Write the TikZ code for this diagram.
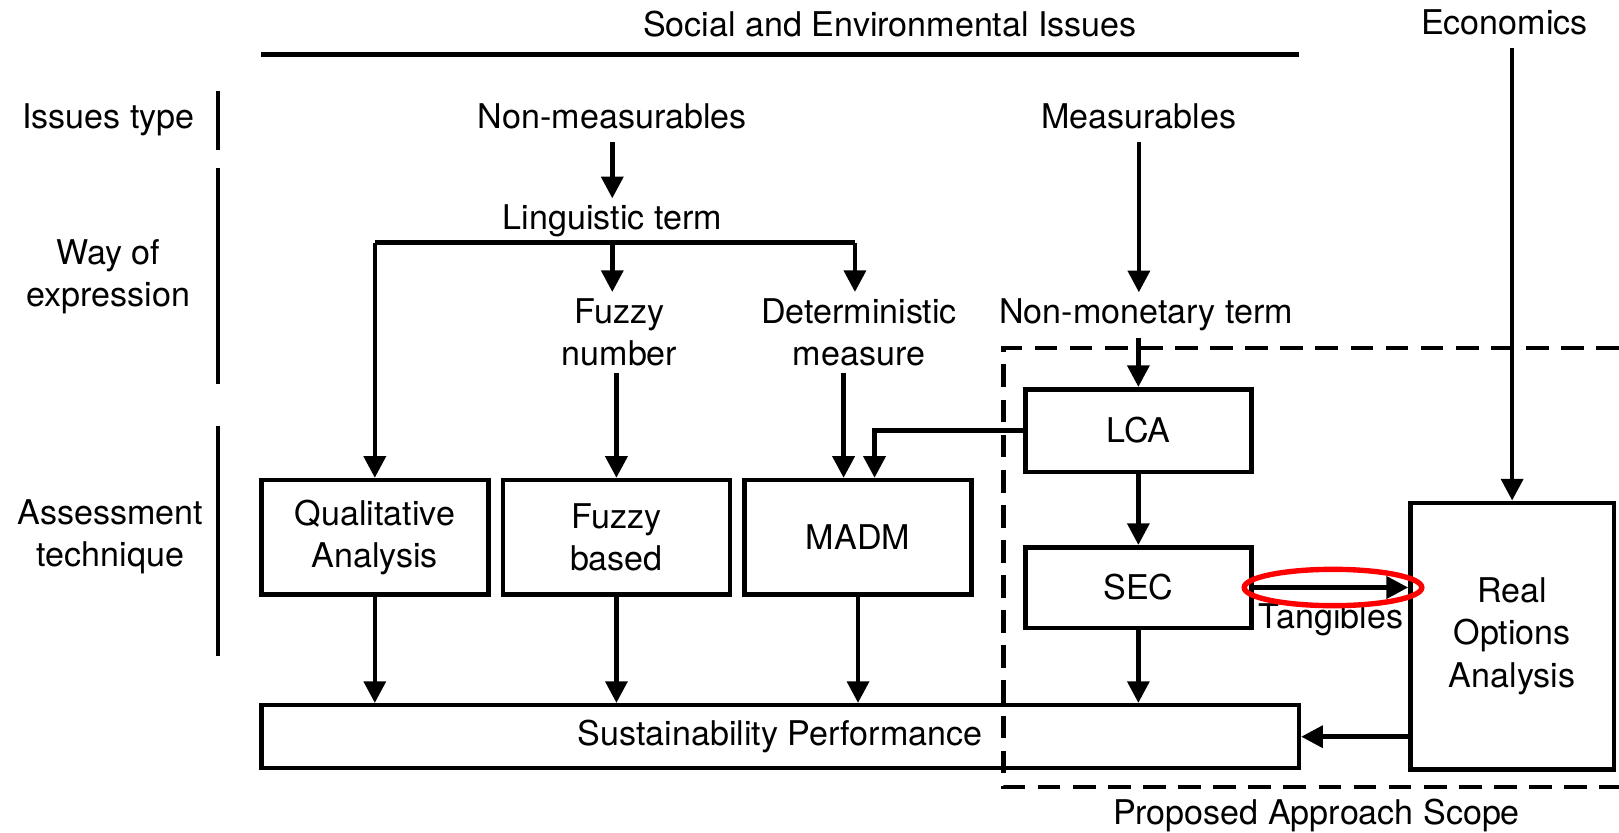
\documentclass[tikz,border=0pt]{standalone}
\usepackage{fontspec}
\setmainfont{TeX Gyre Heros}
\usetikzlibrary{arrows.meta,calc}
\begin{document}
\begin{tikzpicture}[x=0.5pt,y=-0.5pt,
  every node/.style={font=\fontsize{16.5}{20.5}\selectfont, inner sep=3pt},
  lbl/.style={text height=12pt, text depth=3.5pt},
  mlbl/.style={align=center},
  boxn/.style={draw, line width=2.2pt, align=center, inner sep=0pt},
  ln/.style={line width=2.2pt},
  arr/.style={line width=2.2pt, -{Triangle[length=10.5pt,width=10.5pt]}},
  scopebox/.style={line width=2.2pt, dash pattern=on 11pt off 6pt}
]
\useasboundingbox (0,0) rectangle (1568,806);

% headings
\node[lbl] (title) at (862,27) {Social and Environmental Issues};
\node[lbl] (econ) at (1457,25) {Economics};
\draw[ln] (253,53) -- (1258,53);

% left column labels
\node[lbl] (issuesType) at (105,116) {Issues type};
\node[mlbl] (way) at (105,268) {Way of\\expression};
\node[mlbl] (assess) at (107,520) {Assessment\\technique};
\draw[ln] (211,88) -- (211,145);
\draw[ln] (211,163) -- (211,372);
\draw[ln] (211,413) -- (211,635);

% texts
\node[lbl] (nonmeas) at (593,116) {Non-measurables};
\node[lbl] (ling) at (593,214) {Linguistic term};
\node[mlbl] (fuzzyNum) at (600,322) {Fuzzy\\number};
\node[mlbl] (detMeas) at (832,322) {Deterministic\\measure};
\node[lbl] (meas) at (1103,116) {Measurables};
\node[lbl] (nonmon) at (1110,305) {Non-monetary term};

% boxes
\node[boxn, minimum width=110pt, minimum height=55.5pt] (qa) at (363,520.5) {Qualitative\\Analysis};
\node[boxn, minimum width=110pt, minimum height=55.5pt] (fb) at (597,520.5) {Fuzzy\\based};
\node[boxn, minimum width=110pt, minimum height=55.5pt] (madm) at (831,520.5) {MADM};
\node[boxn, minimum width=109.5pt, minimum height=40pt] (lca) at (1102.5,417) {LCA};
\node[boxn, minimum width=109.5pt, minimum height=39pt] (sec) at (1102.5,569) {SEC};
\node[boxn, minimum width=98.5pt, minimum height=129pt] (roa) at (1464.5,616) {Real\\Options\\Analysis};
\node[boxn, minimum width=502.5pt, minimum height=30.5pt] (sp) at (755.5,713.5) {Sustainability Performance};

% scope
\draw[scopebox] (1568,337) -- (972,337) -- (972,762) -- (1568,762);
\node[lbl] (scope) at (1275,790) {Proposed Approach Scope};

% non-measurable branch
\coordinate (bus) at (593,235);
\draw[arr] (nonmeas.south) -- (ling.north);
\draw[ln] (qa.north |- bus) -- (bus -| 828,0);
\draw[arr] (qa.north |- bus) -- (qa.north);
\draw[arr] (ling.south |- bus) -- (ling.south |- fuzzyNum.north);
\draw[arr] (bus -| 828,0) -- (828,0 |- detMeas.north);
\draw[arr] (fuzzyNum.south -| fb.north) -- (fb.north);
\draw[arr] ([xshift=-7pt]madm.north |- detMeas.south) -- ([xshift=-7pt]madm.north);

% measurable branch
\draw[arr] (meas.south) -- (meas.south |- nonmon.north);
\draw[arr] (lca.north |- nonmon.south) -- (lca.north);
\draw[arr] (lca.west) -| ([xshift=8pt]madm.north);
\draw[arr] (lca.south) -- (sec.north);
\draw[arr] (sec.east) -- (roa.west |- sec.east) node[midway, below=3.5pt] (tang) {Tangibles};
\draw[arr] (econ.south -| roa.north) -- (roa.north);

% to sustainability performance
\draw[arr] (qa.south) -- (qa.south |- sp.north);
\draw[arr] (fb.south) -- (fb.south |- sp.north);
\draw[arr] (madm.south) -- (madm.south |- sp.north);
\draw[arr] (sec.south) -- (sec.south |- sp.north);
\draw[arr] (roa.west |- sp.east) -- (sp.east);

% highlight
\coordinate (hl) at ($(sec.east)!0.5!(roa.west |- sec.east)$);
\draw[red, line width=2.6pt] ([xshift=1pt]hl) ellipse [x radius=43pt, y radius=8.8pt];
\end{tikzpicture}
\end{document}
